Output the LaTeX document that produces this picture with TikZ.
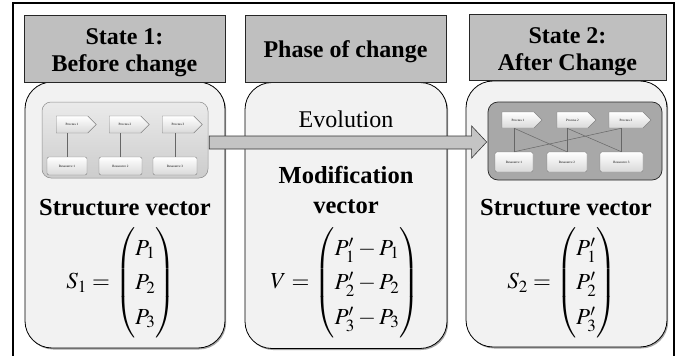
\documentclass[tikz,border=0pt]{standalone}
\usepackage{amsmath}
\usepackage{mathptmx}
\usepackage{fontspec}
\setmainfont{Liberation Serif}
\usetikzlibrary{shapes.symbols,shadows,calc}
\definecolor{hdr}{HTML}{BFBFBF}
\definecolor{pnl}{HTML}{F2F2F2}
\definecolor{arw}{HTML}{C4C4C4}
\definecolor{dk}{HTML}{A8A8A8}
\begin{document}
\begin{tikzpicture}[x=1pt,y=-1pt,
  frame/.style={line width=1.1pt},
  header/.style={draw=black!85, fill=hdr, line width=0.6pt, minimum height=67pt,
    inner sep=0pt},
  htext/.style={align=center, inner sep=0pt, font=\fontsize{24}{27}\selectfont\bfseries},
  panel/.style={draw=black, fill=pnl, line width=0.8pt, rounded corners=27pt, minimum height=266pt,
    inner sep=0pt, drop shadow={shadow xshift=1.2pt, shadow yshift=-1.5pt, fill=black!60, opacity=0.6}},
  ldiag/.style={draw=black!45, line width=0.5pt, rounded corners=9pt, top color=black!8, bottom color=black!20,
    minimum width=166pt, minimum height=76pt, inner sep=0pt},
  rdiag/.style={draw=black!85, line width=0.7pt, fill=dk, rounded corners=10pt,
    minimum width=174pt, minimum height=78pt, inner sep=0pt},
  proc/.style={signal, signal to=east, draw=black!50, line width=0.4pt, top color=white, bottom color=black!15,
    minimum width=40pt, minimum height=17pt, inner sep=0pt, font=\fontsize{3.3}{3.8}\selectfont},
  res/.style={rectangle, rounded corners=2pt, draw=black!50, line width=0.4pt, top color=white, bottom color=black!15,
    minimum width=40pt, minimum height=18pt, inner sep=0pt, font=\fontsize{3.3}{3.8}\selectfont},
  link/.style={draw=black!60, line width=0.5pt},
  bigarrow/.style={draw=black!80, fill=arw, line width=0.6pt, line join=miter},
  bold/.style={font=\fontsize{24.5}{30}\selectfont\bfseries, align=center, inner sep=0pt},
  plain/.style={font=\fontsize{24}{28}\selectfont, inner sep=0pt},
  eq/.style={font=\fontsize{23}{27.6}\selectfont, inner sep=0pt}
]
\useasboundingbox (0,0) rectangle (681,356);
\fill[white] (0,0) rectangle (681,356);
\draw[frame] (13,358) -- (13,3) -- (674,3) -- (674,358);

% panels
\node[panel, minimum width=200pt] (pan1) at (125,215) {};
\node[panel, minimum width=202pt] (pan2) at (346,215.5) {};
\node[panel, minimum width=201pt] (pan3) at (566.5,214) {};

% headers
\node[header, minimum width=201pt] (h1) at (124.5,48.5) {};
\node[header, minimum width=201pt] (h2) at (345.5,48.5) {};
\node[header, minimum width=197pt, minimum height=66pt] (h3) at (567.5,47) {};
\node[htext, anchor=base] (t1) at (124.5,71) {State 1:\\Before change};
\node[htext, anchor=base] (t2) at (345.5,57) {Phase of change};
\node[htext, anchor=base] (t3) at (567.5,70) {State 2:\\After Change};

% left diagram
\node[ldiag] (ld) at (125,140) {};
\node[proc] (lp1) at (72,124.5) {Process 1};
\node[proc] (lp2) at (125,124.5) {Process 2};
\node[proc] (lp3) at (178,124.5) {Process 3};
\node[res] (lr1) at (67,166) {Ressource 1};
\node[res, minimum width=43pt] (lr2) at (120.5,166) {Ressource 2};
\node[res, minimum width=44pt] (lr3) at (175,166) {Ressource 3};
\draw[link] (lr1.north) -- (lr1.north |- lp1.south);
\draw[link] (lr2.north) -- (lr2.north |- lp2.south);
\draw[link] (lr3.north) -- (lr3.north |- lp3.south);

% right diagram
\node[rdiag] (rd) at (575,141) {};
\node[proc, minimum height=16pt] (rp1) at (518,120) {Process 1};
\node[proc, minimum height=16pt, minimum width=39pt] (rp2) at (572.5,120) {Process 2};
\node[proc, minimum height=16pt, minimum width=42pt] (rp3) at (626,120) {Process 3};
\node[res, minimum width=38pt, minimum height=20pt] (rr1) at (514,162) {Ressource 1};
\node[res, minimum height=20pt] (rr2) at (567,162) {Ressource 2};
\node[res, minimum width=43pt, minimum height=20pt] (rr3) at (621.5,162) {Ressource 3};
\coordinate (pb1) at (rr1.north |- rp1.south);
\coordinate (pb2) at (rr2.north |- rp2.south);
\coordinate (pb3) at (rr3.north |- rp3.south);
\draw[link] (pb1) -- (rr1.north);
\draw[link] (pb2) -- (rr2.north);
\draw[link] (pb3) -- (rr3.north);
\draw[link] (pb1) -- (rr2.north);
\draw[link] (pb2) -- (rr3.north);
\draw[link] (pb3) -- (rr1.north);

% big arrow
\draw[bigarrow] ($(ld.east)+(1,-4)$) -- ($(rd.west)+(-16,-5)$) -- ($(rd.west)+(-16,-15)$)
  -- ($(rd.west)+(-1,1)$) -- ($(rd.west)+(-16,17)$) -- ($(rd.west)+(-16,8)$)
  -- ($(ld.east)+(1,9)$) -- cycle;

% texts
\node[plain, anchor=base] (evo) at (346,127) {Evolution};
\node[bold, anchor=base] (sv1) at (125,215) {Structure vector};
\node[bold, anchor=base] (sv3) at (566,215) {Structure vector};
\node[bold, anchor=base] (mv) at (346,213) {Modification\\vector};

\def\arraystretch{1.25}
\node[eq] (m1) at (121,283) {$S_1=\begin{pmatrix}P_1\\ P_2\\ P_3\end{pmatrix}$};
\node[eq] (m2) at (345,283) {$V=\begin{pmatrix}P'_1-P_1\\ P'_2-P_2\\ P'_3-P_3\end{pmatrix}$};
\node[eq] (m3) at (562,283) {$S_2=\begin{pmatrix}P'_1\\ P'_2\\ P'_3\end{pmatrix}$};
\end{tikzpicture}
\end{document}
